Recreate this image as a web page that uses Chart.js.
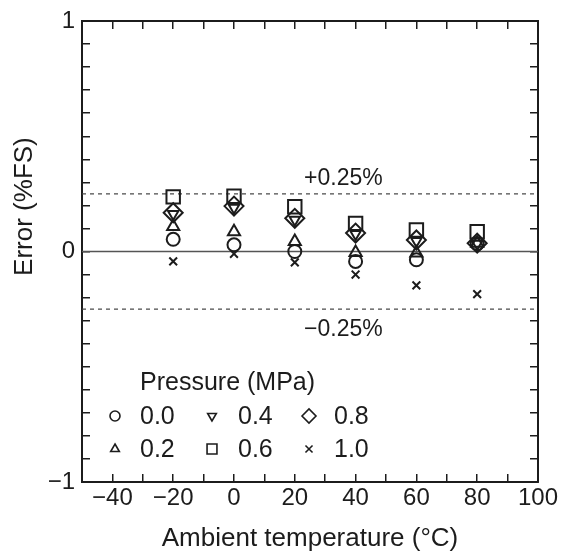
<!DOCTYPE html>
<html>
<head>
<meta charset="utf-8">
<script src="https://cdn.jsdelivr.net/npm/chart.js@4.4.0/dist/chart.umd.min.js"></script>
<style>
  html, body { margin: 0; padding: 0; background: #fff; }
  #contenedor { width: 568px; height: 554px; }
</style>
</head>
<body>
<div id="contenedor"><canvas id="graficoError"></canvas></div>
<script>
// temperaturas de ensayo (°C)
const temperaturas = [-20, 0, 20, 40, 60, 80];

// error (%FS) por presion (MPa)
const error00 = [0.053, 0.029, 0.000, -0.043, -0.036, 0.034];
const error02 = [0.108, 0.086, 0.043, -0.004, -0.007, 0.036];
const error04 = [0.163, 0.190, 0.138, 0.076, 0.046, 0.034];
const error06 = [0.237, 0.240, 0.194, 0.122, 0.093, 0.086];
const error08 = [0.168, 0.197, 0.144, 0.080, 0.050, 0.036];
const error10 = [-0.043, -0.010, -0.047, -0.100, -0.147, -0.185];

const presiones = ['0.0', '0.2', '0.4', '0.6', '0.8', '1.0'];
const limites = [0.25, -0.25];
const etiquetasLimite = ['+0.25%', '\u22120.25%'];

const rangoX = [-50, 100];
const rangoY = [-1, 1];

const negro = '#1c1c1c';
const fuente = 'Liberation Sans, Arial, Helvetica, sans-serif';

const series = [error00, error02, error04, error06, error08, error10];
const estilos = [
  { pointStyle: 'circle', radius: 6.5, rotation: 0 },
  { pointStyle: 'triangle', radius: 7, rotation: 0 },
  { pointStyle: 'triangle', radius: 6, rotation: 180 },
  { pointStyle: 'rect', radius: 9.5, rotation: 0 },
  { pointStyle: 'rectRot', radius: 9.5, rotation: 0 },
  { pointStyle: 'crossRot', radius: 5.5, rotation: 0 },
];

const datasets = series.map((valores, i) => ({
  label: presiones[i],
  data: temperaturas.map((t, j) => ({ x: t, y: valores[j] })),
  pointStyle: estilos[i].pointStyle,
  pointRadius: estilos[i].radius,
  pointRotation: estilos[i].rotation,
  pointBorderColor: negro,
  pointBackgroundColor: 'rgba(0,0,0,0)',
  pointBorderWidth: 2,
  showLine: false,
  order: 1,
}));

// linea de cero y limites de +-0.25%
datasets.push({
  label: 'cero',
  data: rangoX.map(x => ({ x: x, y: 0 })),
  showLine: true, borderColor: '#555', borderWidth: 1.4, pointRadius: 0, order: 5,
});
limites.forEach(l => datasets.push({
  label: 'limite',
  data: rangoX.map(x => ({ x: x, y: l })),
  showLine: true, borderColor: '#444', borderWidth: 1.2, borderDash: [4, 4], pointRadius: 0, order: 5,
}));

const menos = v => String(v).replace('-', '\u2212');

// leyenda dentro del area del grafico, etiquetas y titulo del eje y
const leyendaInterna = {
  id: 'leyendaInterna',
  afterDatasetsDraw(chart) {
    const ctx = chart.ctx;
    const area = chart.chartArea;
    const xs = chart.scales.x, ys = chart.scales.y;
    ctx.save();
    ctx.fillStyle = negro;
    ctx.textBaseline = 'middle';

    // etiquetas de los limites
    ctx.font = '23px ' + fuente;
    ctx.textAlign = 'center';
    ctx.fillText(etiquetasLimite[0], xs.getPixelForValue(36), ys.getPixelForValue(0.315));
    ctx.fillText(etiquetasLimite[1], xs.getPixelForValue(36), ys.getPixelForValue(-0.34));

    // titulo del eje y
    ctx.save();
    ctx.translate(25, ys.getPixelForValue(0.195));
    ctx.rotate(-Math.PI / 2);
    ctx.font = '26px ' + fuente;
    ctx.fillText('Error (%FS)', 0, 0);
    ctx.restore();

    ctx.textAlign = 'left';
    ctx.font = '25px ' + fuente;
    ctx.fillText('Pressure (MPa)', area.left + 58, area.bottom - 99);

    const colMarca = [33, 130, 227];
    const colTexto = [58, 156, 252];
    const filas = [-66, -33];
    presiones.forEach((p, i) => {
      const c = Math.floor(i / 2), f = i % 2;
      const y = area.bottom + filas[f];
      ctx.strokeStyle = negro;
      ctx.fillStyle = 'rgba(0,0,0,0)';
      ctx.lineWidth = 1.6;
      Chart.helpers.drawPoint(ctx, {
        pointStyle: estilos[i].pointStyle,
        rotation: estilos[i].rotation,
        radius: estilos[i].pointStyle === 'rect' || estilos[i].pointStyle === 'rectRot' ? 7 : 5,
        borderWidth: 1.6,
      }, area.left + colMarca[c], y);
      ctx.fillStyle = negro;
      ctx.fillText(p, area.left + colTexto[c], y + 1);
    });
    ctx.restore();
  }
};

const marcaTicks = { display: true, drawOnChartArea: false, drawTicks: true, tickLength: -8, color: negro, lineWidth: 1.5 };
const borde = { display: true, color: negro, width: 2 };

const ctx = document.getElementById('graficoError').getContext('2d');
const grafico = new Chart(ctx, {
  type: 'scatter',
  data: { datasets: datasets },
  plugins: [leyendaInterna],
  options: {
    responsive: true,
    maintainAspectRatio: false,
    animation: false,
    events: [],
    layout: { padding: { left: 0, right: 29, top: 18, bottom: 0 } },
    plugins: { legend: { display: false }, tooltip: { enabled: false } },
    scales: {
      x: {
        type: 'linear', position: 'bottom', min: rangoX[0], max: rangoX[1],
        grid: marcaTicks, border: borde,
        afterFit: s => { s.height = 72; },
        ticks: {
          stepSize: 10, padding: 10, maxRotation: 0, autoSkip: false,
          color: negro, font: { family: fuente, size: 24 },
          callback: v => (v % 20 === 0 ? menos(v) : ''),
        },
        title: { display: true, text: 'Ambient temperature (°C)', color: negro,
                 font: { family: fuente, size: 26 }, padding: { top: 0, bottom: 0 } },
      },
      x2: {
        type: 'linear', position: 'top', min: rangoX[0], max: rangoX[1],
        grid: marcaTicks, border: borde,
        afterFit: s => { s.height = 0; },
        ticks: { stepSize: 10, display: false },
      },
      y: {
        type: 'linear', position: 'left', min: rangoY[0], max: rangoY[1],
        grid: marcaTicks, border: borde,
        afterFit: s => { s.width = 82; },
        ticks: {
          stepSize: 0.1, padding: 15, autoSkip: false,
          color: negro, font: { family: fuente, size: 24, lineHeight: 0.5 },
          callback: v => (Math.abs(v - Math.round(v)) < 1e-6 ? menos(Math.round(v)) : ''),
        },
      },
      y2: {
        type: 'linear', position: 'right', min: rangoY[0], max: rangoY[1],
        grid: marcaTicks, border: borde,
        afterFit: s => { s.width = 0; },
        ticks: { stepSize: 0.1, display: false },
      },
    },
  },
});
</script>
</body>
</html>
